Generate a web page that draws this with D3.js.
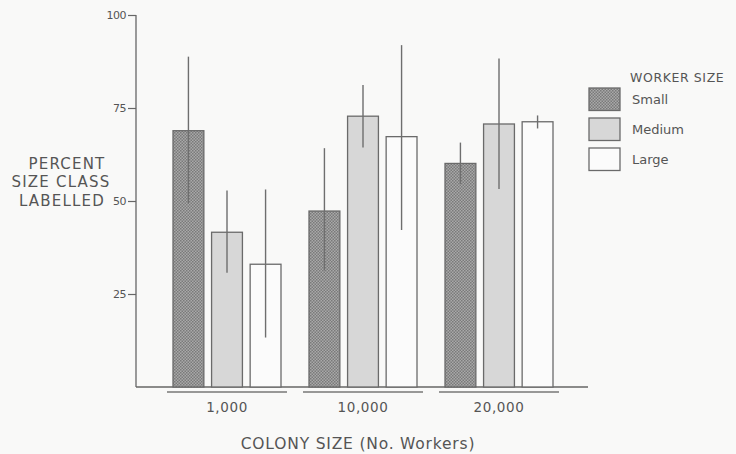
<!DOCTYPE html>
<html>
<head>
<meta charset="utf-8">
<script src="https://cdn.jsdelivr.net/npm/d3@7"></script>
<style>
  html, body { margin: 0; padding: 0; background: #f9f9f8; }
  svg { display: block; }
  text { font-family: "DejaVu Sans", "Liberation Sans", sans-serif; fill: #555; }
</style>
</head>
<body>
<svg id="chart" width="736" height="454"></svg>
<script>
const colonySizes = ["1,000", "10,000", "20,000"];
const workerSizes = ["Small", "Medium", "Large"];
const meanSmall  = [68.9, 47.3, 60.1];
const meanMedium = [41.6, 72.8, 70.7];
const meanLarge  = [33.0, 67.3, 71.3];
const lowSmall   = [49.4, 31.3, 54.6];
const highSmall  = [88.8, 64.2, 65.7];
const lowMedium  = [30.7, 64.4, 53.2];
const highMedium = [52.8, 81.2, 88.3];
const lowLarge   = [13.3, 42.2, 69.5];
const highLarge  = [53.1, 91.9, 73.0];
const yTicks = [25, 50, 75, 100];

const means = [meanSmall, meanMedium, meanLarge];
const lows = [lowSmall, lowMedium, lowLarge];
const highs = [highSmall, highMedium, highLarge];
const data = [];
colonySizes.forEach((c, i) => {
  workerSizes.forEach((w, j) => {
    data.push({ colony: c, worker: w, value: means[j][i], lo: lows[j][i], hi: highs[j][i] });
  });
});

const svg = d3.select("#chart");
const defs = svg.append("defs");
const pat = defs.append("pattern").attr("id", "checker")
  .attr("width", 3).attr("height", 3).attr("patternUnits", "userSpaceOnUse");
pat.append("rect").attr("width", 3).attr("height", 3).attr("fill", "#a9a9a9");
pat.append("rect").attr("width", 1.5).attr("height", 1.5).attr("fill", "#7a7a7a");
pat.append("rect").attr("x", 1.5).attr("y", 1.5).attr("width", 1.5).attr("height", 1.5).attr("fill", "#7a7a7a");

const fills = { Small: "url(#checker)", Medium: "#d7d7d7", Large: "#fbfbfb" };

const axisX = 136, baseY = 387, topY = 15, axisEnd = 588;
const y = d3.scaleLinear().domain([0, 100]).range([baseY, topY]);
const x0 = d3.scaleBand().domain(colonySizes).range([159, 567]).paddingInner(0).paddingOuter(0);
const x1 = d3.scaleBand().domain(workerSizes).range([14, 122]).paddingInner(0.2).paddingOuter(0);

// Y axis
const yAxis = d3.axisLeft(y).tickValues(yTicks).tickSize(8).tickPadding(2).tickSizeOuter(0);
const gy = svg.append("g").attr("transform", `translate(${axisX},0)`).call(yAxis);
gy.select(".domain").attr("stroke", "#666").attr("stroke-width", 1.3).attr("d", `M0,${topY}V${baseY}`);
gy.selectAll(".tick line").attr("stroke", "#666").attr("stroke-width", 1.2);
gy.selectAll(".tick text").style("font-size", "11px").attr("fill", "#666").style("letter-spacing", "-0.5px");

// X axis line
svg.append("line").attr("x1", axisX).attr("x2", axisEnd).attr("y1", baseY).attr("y2", baseY)
  .attr("stroke", "#666").attr("stroke-width", 1.3);

// Bars
const groups = svg.append("g").selectAll("g").data(colonySizes).join("g")
  .attr("transform", d => `translate(${x0(d)},0)`);

groups.selectAll("rect").data(c => data.filter(d => d.colony === c)).join("rect")
  .attr("x", d => x1(d.worker))
  .attr("y", d => y(d.value))
  .attr("width", x1.bandwidth())
  .attr("height", d => y(0) - y(d.value))
  .attr("fill", d => fills[d.worker])
  .attr("stroke", "#6a6a6a")
  .attr("stroke-width", 1.3);

groups.selectAll("line.err").data(c => data.filter(d => d.colony === c)).join("line")
  .attr("class", "err")
  .attr("x1", d => x1(d.worker) + x1.bandwidth() / 2)
  .attr("x2", d => x1(d.worker) + x1.bandwidth() / 2)
  .attr("y1", d => y(d.lo))
  .attr("y2", d => y(d.hi))
  .attr("stroke", "#6e6e6e")
  .attr("stroke-width", 1.4);

// Group underlines and labels
groups.append("line")
  .attr("x1", x0.bandwidth() / 2 - 60).attr("x2", x0.bandwidth() / 2 + 60)
  .attr("y1", 392).attr("y2", 392)
  .attr("stroke", "#777").attr("stroke-width", 1.3);
groups.append("text")
  .attr("x", x0.bandwidth() / 2).attr("y", 412)
  .attr("text-anchor", "middle")
  .style("font-size", "13.5px")
  .style("letter-spacing", "0.6px")
  .text(d => d);

// X title
svg.append("text").attr("x", 358).attr("y", 448.5).attr("text-anchor", "middle")
  .style("font-size", "15.5px").style("letter-spacing", "0.8px")
  .text("COLONY SIZE  (No. Workers)");

// Y title
const yTitle = ["PERCENT", "SIZE CLASS", "LABELLED"];
const yTitleX = [67, 61, 62];
svg.append("g").selectAll("text").data(yTitle).join("text")
  .attr("x", (d, i) => yTitleX[i]).attr("y", (d, i) => 168.5 + i * 18.5)
  .attr("text-anchor", "middle")
  .style("font-size", "15px")
  .style("letter-spacing", "1.2px")
  .text(d => d);

// Legend
const legend = svg.append("g");
legend.append("text").attr("x", 630).attr("y", 81.5).style("font-size", "12.5px")
  .style("letter-spacing", "0.6px").text("WORKER SIZE");
const ly = d3.scaleBand().domain(workerSizes).range([88, 170.5]).paddingInner(0.25).paddingOuter(0);
legend.selectAll("rect").data(workerSizes).join("rect")
  .attr("x", 589).attr("y", d => ly(d)).attr("width", 31).attr("height", ly.bandwidth())
  .attr("fill", d => fills[d]).attr("stroke", "#6a6a6a").attr("stroke-width", 1.3);
legend.selectAll("text.lab").data(workerSizes).join("text")
  .attr("class", "lab")
  .attr("x", 632).attr("y", d => ly(d) + ly.bandwidth() / 2 + 5)
  .style("font-size", "13px")
  .text(d => d);
</script>
</body>
</html>
